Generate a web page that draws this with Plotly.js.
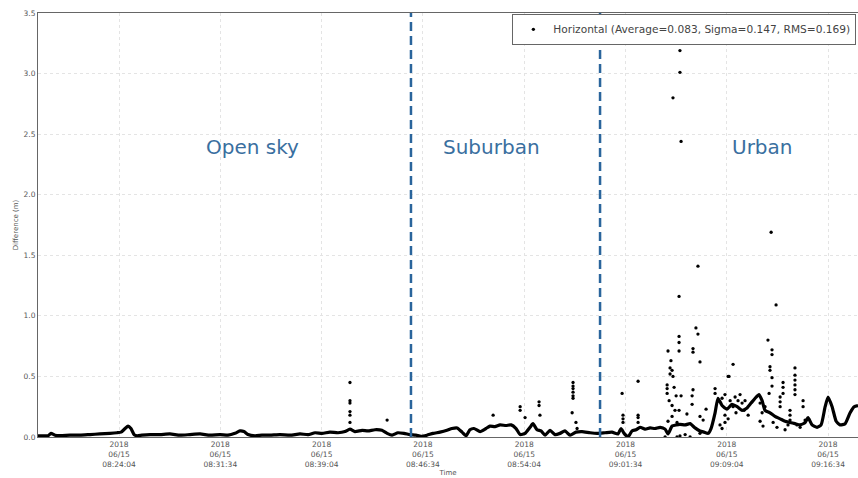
<!DOCTYPE html>
<html>
<head>
<meta charset="utf-8">
<script src="https://cdn.plot.ly/plotly-3.0.1.min.js"></script>
<style>html,body{margin:0;padding:0;background:#fff;}#chart{width:858px;height:478px;}</style>
</head>
<body>
<div id="chart"></div>
<script>
// Seconds elapsed since 2018-06-15 08:18:04
const baseSec = [0,13,44,58,76,98,142,187,231,275,320,351,369,387,400,413,427,440,462,498,542,586,631,675,720,764,809,844,875,897,915,933,964,995,1031,1075,1120,1164,1200,1231,1262,1297,1333,1364,1386,1408,1440,1466,1497,1528,1551,1573,1599,1626,1653,1679,1702,1728,1755,1786,1817,1839,1862,1884,1902,1919,1937,1964,1990,2008,2030,2053,2079,2102,2124,2142,2164,2186,2199,2217,2235,2253,2275,2297,2319,2341,2364,2390,2417,2453,2484,2519,2550,2577,2590,2604,2621,2639,2657,2675,2697,2719,2741,2764,2786,2799,2817,2835,2852,2875,2897,2919,2941,2959,2977,2990,3008,3021,3039,3061,3083,3106,3128,3150,3168,3186,3203,3217,3230,3252,3274,3297,3319,3341,3363,3386,3408,3421,3439,3461,3479,3497,3510,3528,3546,3563,3586,3608,3626,3643];
const baseVal = [0.01,0.01,0.01,0.03,0.015,0.012,0.015,0.015,0.02,0.025,0.03,0.035,0.04,0.07,0.09,0.07,0.02,0.01,0.015,0.02,0.02,0.025,0.015,0.02,0.025,0.015,0.02,0.015,0.03,0.05,0.045,0.02,0.01,0.015,0.015,0.02,0.015,0.025,0.02,0.035,0.03,0.04,0.035,0.045,0.065,0.045,0.055,0.05,0.06,0.055,0.03,0.015,0.035,0.03,0.02,0.015,0.005,0.015,0.03,0.04,0.055,0.07,0.075,0.04,0.01,0.06,0.07,0.045,0.07,0.09,0.085,0.1,0.095,0.1,0.07,0.02,0.03,0.08,0.11,0.06,0.05,0.015,0.055,0.02,0.03,0.05,0.015,0.04,0.045,0.035,0.03,0.035,0.04,0.025,0.07,0.03,0.0,0.05,0.06,0.08,0.065,0.075,0.07,0.08,0.065,0.025,0.09,0.1,0.105,0.1,0.11,0.075,0.05,0.04,0.03,0.07,0.2,0.32,0.26,0.23,0.27,0.25,0.22,0.24,0.28,0.32,0.35,0.3,0.22,0.2,0.17,0.15,0.13,0.12,0.11,0.1,0.12,0.16,0.1,0.08,0.1,0.25,0.33,0.25,0.13,0.1,0.11,0.2,0.25,0.26];

const outSec = [1386,1386,1386,1386,1386,1386,1551,
  2022,2142,2142,2164,2226,2226,2230,2377,2377,2377,2377,2377,2377,2373,2390,2395,
  2595,2599,2599,2599,2666,2666,2666,2666,
  2852,2852,2821,2857,3257,2932,2848,3279,
  2923,2932,2848,2848,2848,2799,2910,2910,2941,2812,2808,2817,2808,2821,2795,2795,2795,2826,2835,2857,2804,2817,2830,2848,2906,2906,2910,2883,2817,2799,2839,2941,2968,2955,3008,3008,3066,3088,3070,
  3243,3261,3261,3252,3252,3261,3261,3248,3363,3363,3363,3363,3363,3363,3310,3310,3310,3297,3297,3297,3266,3283,3341,3341,3341,3399,3399,
  2839,2852,2875,2786,2897,2941,
  3039,3052,3075,3097,3110,3119,3128,3141,3101,3088,3052,3066,3137,3155,3208,3230,3217,
  3030,3039,3052,3208,3221,3372,3386,3408,3319,3332];
const outVal = [0.45,0.30,0.28,0.21,0.18,0.12,0.14,
  0.18,0.25,0.22,0.16,0.29,0.26,0.18,0.45,0.42,0.40,0.37,0.34,0.32,0.20,0.12,0.07,
  0.36,0.15,0.12,0.18,0.46,0.18,0.16,0.12,
  3.19,3.01,2.80,2.44,1.69,1.41,1.16,1.09,
  0.90,0.85,0.83,0.78,0.71,0.71,0.73,0.70,0.62,0.63,0.57,0.55,0.52,0.50,0.43,0.40,0.36,0.41,0.34,0.34,0.30,0.26,0.22,0.22,0.34,0.27,0.39,0.19,0.17,0.13,0.12,0.17,0.23,0.14,0.40,0.36,0.50,0.60,0.50,
  0.80,0.72,0.68,0.58,0.55,0.49,0.42,0.36,0.57,0.51,0.47,0.43,0.39,0.35,0.45,0.41,0.36,0.33,0.29,0.25,0.12,0.08,0.22,0.18,0.14,0.30,0.25,
  0.0,0.01,0.02,0.0,0.0,0.03,
  0.32,0.35,0.30,0.33,0.30,0.35,0.28,0.30,0.20,0.25,0.18,0.15,0.22,0.18,0.28,0.25,0.20,
  0.10,0.07,0.12,0.13,0.09,0.10,0.08,0.14,0.06,0.10];

const tickSec = [360,810,1260,1710,2160,2610,3060,3510];
const regionNames = ['Open sky','Suburban','Urban'];
const regionBoundarySec = [1657,2497];
const legendName = 'Horizontal (Average=0.083, Sigma=0.147, RMS=0.169)';

function toDate(sec){
  const tot = 8*3600+18*60+4+sec;
  const h = Math.floor(tot/3600), m = Math.floor((tot%3600)/60), s = tot%60;
  const p = n => String(n).padStart(2,'0');
  return '2018-06-15 ' + p(h)+':'+p(m)+':'+p(s);
}

const FONT = 'DejaVu Sans, sans-serif';
const blue = '#3a6f9f';

const traces = [
  {x: baseSec.map(toDate), y: baseVal, type:'scatter', mode:'lines',
   line:{color:'#000', width:3.2, shape:'spline', smoothing:0.5}, showlegend:false, hoverinfo:'skip'},
  {x: outSec.map(toDate), y: outVal, type:'scatter', mode:'markers', name: legendName,
   marker:{color:'#000', size:3.3}}
];

const labelCenters = [955, 2013, 3217];
const annotations = regionNames.map((n,i)=>({
  x: toDate(labelCenters[i]), y: 2.39, xref:'x', yref:'y', text:n, showarrow:false,
  font:{family:FONT, size:20, color:blue}
}));

const shapes = regionBoundarySec.map(b=>({
  type:'line', xref:'x', yref:'y', x0:toDate(b), x1:toDate(b), y0:0, y1:3.5,
  line:{color:'#2a659c', width:2.5, dash:'9px,5px'}
}));

const layout = {
  width:858, height:478,
  margin:{l:38, r:0, t:13, b:41},
  paper_bgcolor:'#fff', plot_bgcolor:'#fff',
  font:{family:FONT, color:'#444'},
  xaxis:{
    type:'date', range:[toDate(0), toDate(3643)],
    tickvals: tickSec.map(toDate), tickformat:'%Y<br>%m/%d<br>%H:%M:%S',
    tickfont:{family:FONT, size:7.5, color:'#555'},
    showgrid:true, gridcolor:'#e4e4e4', griddash:'dot', gridwidth:1,
    showline:true, linecolor:'#666', linewidth:1, mirror:true,
    ticks:'', zeroline:false,
    title:{text:'Time', font:{family:FONT, size:7, color:'#555'}, standoff:2}
  },
  yaxis:{
    range:[0,3.5], dtick:0.5, tick0:0, tickformat:'.1f',
    tickfont:{family:FONT, size:7.5, color:'#555'},
    showgrid:true, gridcolor:'#e4e4e4', griddash:'dot', gridwidth:1,
    showline:true, linecolor:'#666', linewidth:1, mirror:true,
    ticks:'', zeroline:false,
    title:{text:'Difference (m)', font:{family:FONT, size:7, color:'#555'}, standoff:4}
  },
  legend:{x:0.998, y:0.998, xanchor:'right', yanchor:'top',
    bgcolor:'#fff', bordercolor:'#666', borderwidth:1,
    font:{family:FONT, size:10.6, color:'#444'}, itemwidth:30,
    tracegroupgap:0},
  showlegend:true,
  annotations: annotations,
  shapes: shapes
};

Plotly.newPlot('chart', traces, layout, {staticPlot:true, displayModeBar:false});
</script>
</body>
</html>
